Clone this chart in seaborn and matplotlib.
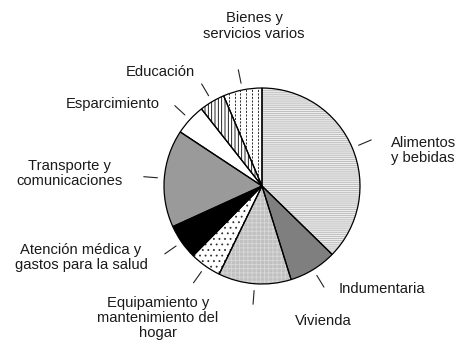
import numpy as np
import matplotlib
matplotlib.use("Agg")
import matplotlib.pyplot as plt
import seaborn as sns

# Household budget shares by expenditure group (%)
categories = [
    "Alimentos y bebidas",
    "Indumentaria",
    "Vivienda",
    "Equipamiento y mantenimiento del hogar",
    "Atención médica y gastos para la salud",
    "Transporte y comunicaciones",
    "Esparcimiento",
    "Educación",
    "Bienes y servicios varios",
]
shares = [37.3, 7.9, 12.0, 5.2, 5.8, 16.1, 5.1, 4.2, 6.4]
label_text = [
    "Alimentos\ny bebidas",
    "Indumentaria",
    "Vivienda",
    "Equipamiento y\nmantenimiento del\nhogar",
    "Atención médica y\ngastos para la salud",
    "Transporte y\ncomunicaciones",
    "Esparcimiento",
    "Educación",
    "Bienes y\nservicios varios",
]

sns.set_theme(style="white")
plt.rcParams["font.family"] = ["Liberation Sans", "DejaVu Sans"]
plt.rcParams["hatch.linewidth"] = 0.6

W, H = 460, 344
fig = plt.figure(figsize=(W / 100, H / 100), dpi=100)
ax = fig.add_axes([0, 0, 1, 1])

# pie centre and radius in pixels, used to lay the canvas out
cx, cy, R = 262, 186, 98

def px(x, y):
    return (x - cx) / R, (cy - y) / R

# fill style per group: face colour, hatch, hatch colour
fills = ["#ededed", "#7f7f7f", "#c0c0c0", "white", "black",
         "#9a9a9a", "white", "white", "white"]
hatches = ["--------", None, "++++", "...", None, None, None, "|||||", None]
hatch_cols = ["#b8b8b8", None, "#d8d8d8", "#333333", None, None, None, "black", None]

wedges, _ = ax.pie(shares, startangle=90, counterclock=False, radius=1,
                   center=(0, 0), colors=fills,
                   wedgeprops=dict(linewidth=0))
for w, h, hc in zip(wedges, hatches, hatch_cols):
    if h:
        w.set_hatch(h)
        w.set_edgecolor(hc)
        w.set_linewidth(0)

# dashed vertical rules inside the last wedge
xs = np.arange(-1.0, 1.0, 0.06)
vl = ax.vlines(xs, -1, 1, colors="#333333", linestyles=(0, (2.2, 1.4)),
               linewidth=0.7)
vl.set_clip_path(wedges[-1])

# black outlines on top
outl, _ = ax.pie(shares, startangle=90, counterclock=False, radius=1,
                 center=(0, 0),
                 wedgeprops=dict(fill=False, edgecolor="black", linewidth=0.9))

# short leader ticks at each wedge's mid angle
for w in wedges:
    a = np.deg2rad((w.theta1 + w.theta2) / 2)
    r = np.array([1.07, 1.21])
    ax.plot(r * np.cos(a), r * np.sin(a), color="#222222", lw=0.8)

label_pos = [
    (391, 150.5, "left"),
    (339, 289, "left"),
    (323, 321, "center"),
    (158, 318, "center"),
    (81, 257.5, "center"),
    (69, 173.3, "center"),
    (112.5, 104, "center"),
    (160, 72, "center"),
    (254, 26, "center"),
]
for txt, (x, y, ha) in zip(label_text, label_pos):
    ax.text(*px(x, y), txt, ha=ha, va="center", multialignment=ha,
            fontsize=10.6, color="#1a1a1a", linespacing=1.12)

ax.set_xlim(-cx / R, (W - cx) / R)
ax.set_ylim(-(H - cy) / R, cy / R)
ax.set_aspect("equal")
ax.axis("off")

fig.savefig("out.png", dpi=100, facecolor="white")
